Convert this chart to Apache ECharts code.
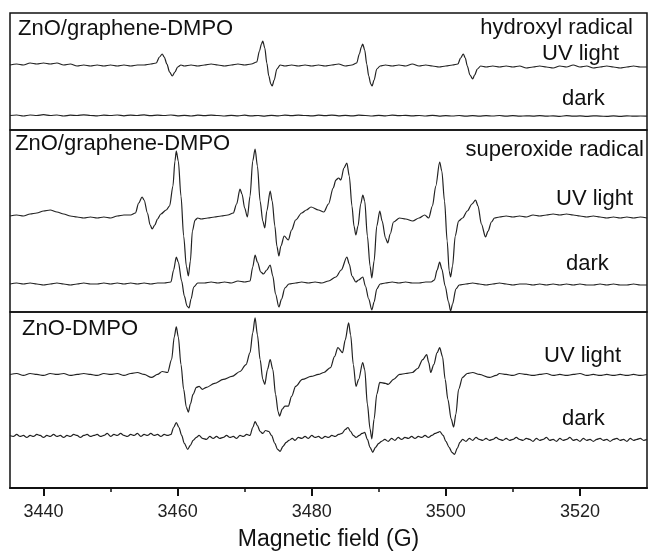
<!DOCTYPE html>
<html>
<head>
<meta charset="utf-8">
<script src="https://cdn.jsdelivr.net/npm/echarts@6/dist/echarts.min.js"></script>
<style>
  html, body { margin: 0; padding: 0; background: #fff; }
  #chart { width: 649px; height: 552px; }
</style>
</head>
<body>
<div id="chart"></div>
<script>
// Field axis (G)
const fieldMin = 3435;
const fieldMax = 3530;
const majorTicks = [3440, 3460, 3480, 3500, 3520];
const minorTicks = [3450, 3470, 3490, 3510];

// EPR spectra, [field (G), derivative signal (a.u.)] relative to each trace's baseline

// ZnO/graphene-DMPO, hydroxyl radical, UV light
const hydroxylUV = [
  [3435,1],[3436,2],[3437,1],[3438,3],[3439,2],[3440,3],[3441,2],[3442,3],[3443,1],[3444,2],[3445,0],[3446,1],[3447,0],[3448,1],[3449,0],[3450,1],[3451,0],[3452,1],[3453,0],[3454,1],[3455,1],[3456,2],
  [3456.8,3],[3457.3,9],[3457.7,12],[3458.0,9],[3458.4,2],[3458.8,-6],[3459.2,-10],[3459.6,-6],[3460.0,-1],[3460.5,1],
  [3461,0],[3462,1],[3463,0],[3464,1],[3465,2],[3466,1],[3467,0],[3468,1],[3469,2],[3470,1],[3471,2],[3471.8,4],
  [3472.2,15],[3472.5,22],[3472.7,25],[3473.0,18],[3473.3,3],[3473.6,-10],[3473.9,-18],[3474.1,-20],[3474.4,-14],[3474.8,-3],[3475.3,1],
  [3476,0],[3477,1],[3478,0],[3479,1],[3480,0],[3481,1],[3482,0],[3483,1],[3484,2],[3485,0],[3486,1],[3486.7,3],
  [3487.1,12],[3487.4,19],[3487.6,22],[3487.9,16],[3488.2,2],[3488.5,-10],[3488.8,-18],[3489.0,-20],[3489.3,-14],[3489.7,-3],[3490.2,0],
  [3491,1],[3492,0],[3493,1],[3494,0],[3495,2],[3496,0],[3497,1],[3498,0],[3499,-1],[3500,0],[3501,1],[3501.8,2],
  [3502.2,8],[3502.6,12],[3502.9,8],[3503.2,0],[3503.6,-9],[3504.0,-13],[3504.3,-9],[3504.7,-3],[3505.2,0],
  [3506,-1],[3507,0],[3508,-1],[3509,0],[3510,-1],[3511,0],[3512,-2],[3513,-1],[3514,0],[3515,-1],[3516,-2],[3517,0],[3518,-1],[3519,1],[3520,-1],[3521,0],[3522,-2],[3523,-1],[3524,0],[3525,-1],[3526,-2],[3527,-1],[3528,0],[3529,-1],[3530,-1]
];

// ZnO/graphene-DMPO, hydroxyl radical, dark
const hydroxylDark = [
  [3435,0],[3436,0.5],[3437,-0.5],[3438,0.5],[3439,0],[3440,0.8],[3441,0],[3442,0.5],[3443,-0.5],[3444,0.3],[3445,0],[3446,0.6],[3447,0],[3448,-0.4],[3449,0.4],[3450,0],[3451,0.5],[3452,-0.3],[3453,0.4],[3454,0],[3455,0.6],[3456,-0.2],[3457,0.4],[3458,0],[3459,0.5],[3460,-0.3],[3461,0.2],[3462,-0.5],[3463,0.3],[3464,-0.2],[3465,0.4],[3466,0],[3467,-0.5],[3468,0.2],[3469,-0.3],[3470,0.3],[3471,-0.4],[3472,0],[3473,-0.6],[3474,0.2],[3475,-0.3],[3476,0.3],[3477,-0.2],[3478,0.4],[3479,0],[3480,-0.4],[3481,0.3],[3482,-0.2],[3483,0.4],[3484,-0.3],[3485,0.2],[3486,-0.4],[3487,0.3],[3488,0],[3489,-0.5],[3490,0.2],[3491,-0.3],[3492,0.3],[3493,-0.2],[3494,0.2],[3495,-0.4],[3496,0],[3497,-0.5],[3498,0.2],[3499,-0.6],[3500,-0.1],[3501,-0.5],[3502,0],[3503,-0.7],[3504,-0.2],[3505,-0.6],[3506,-0.1],[3507,-0.5],[3508,0],[3509,-0.6],[3510,-0.2],[3511,-0.7],[3512,-0.3],[3513,-0.6],[3514,-0.1],[3515,-0.7],[3516,-0.3],[3517,-0.8],[3518,-0.2],[3519,-0.7],[3520,-0.4],[3521,-0.8],[3522,-0.3],[3523,-0.6],[3524,-0.9],[3525,-0.4],[3526,-0.8],[3527,-0.3],[3528,-0.7],[3529,-0.5],[3530,-0.6]
];

// ZnO/graphene-DMPO, superoxide radical, UV light
const superoxideUV = [
  [3435,0],[3436,1],[3437,0],[3438,2],[3439,3],[3440,5],[3441,6],[3442,4],[3443,2],[3444,0],[3445,-1],[3446,-2],[3447,-1],[3448,-2],[3449,-1],[3450,-2],[3451,0],[3452,1],[3453,1],[3453.7,3],
  [3454.2,13],[3454.7,19],[3455.0,16],[3455.5,3],[3455.9,-9],[3456.2,-13],[3456.6,-9],[3457.0,-3],[3457.5,2],[3458.3,6],[3458.8,10],
  [3459.3,30],[3459.6,55],[3459.8,65],[3460.1,55],[3460.5,20],[3460.9,-20],[3461.3,-50],[3461.6,-60],[3461.9,-45],[3462.2,-15],[3462.6,-4],[3463.0,-2],
  [3463.5,-3],[3464.5,-2],[3465.5,-1],[3466.5,0],[3467.5,1],[3468.3,3],
  [3468.8,12],[3469.3,27],[3469.6,22],[3470.0,8],[3470.4,-1],
  [3470.8,20],[3471.2,55],[3471.55,67],[3471.9,50],[3472.3,15],[3472.7,-5],[3473.0,-12],
  [3473.3,5],[3473.8,25],[3474.1,15],[3474.5,-10],[3474.8,-30],[3475.1,-40],[3475.4,-30],[3475.9,-20],[3476.5,-24],[3477.0,-14],[3477.6,-4],[3478.5,3],[3479.2,6],[3479.9,9],[3481.0,6],[3481.8,4],
  [3482.5,12],[3483.2,28],[3483.6,36],[3484.0,38],[3484.35,36],[3484.8,48],[3485.24,53],
  [3485.6,40],[3486.0,10],[3486.3,-10],[3486.58,-19],[3486.9,-10],
  [3487.3,12],[3487.62,21],[3487.9,15],[3488.3,-20],[3488.7,-50],[3488.96,-62],[3489.3,-45],[3489.7,-10],
  [3490.15,5],[3490.5,-5],[3491.0,-22],[3491.34,-27],[3491.7,-18],[3492.2,-6],[3493.1,-2],[3494.0,-3],[3495.06,-5],[3496.0,-2],[3496.85,1],[3497.44,-2],
  [3498.0,10],[3498.5,30],[3499.08,54],[3499.4,45],[3499.8,15],[3500.2,-25],[3500.5,-55],[3500.71,-61],[3501.0,-50],[3501.4,-20],[3501.9,-5],[3502.5,-2],
  [3503.2,5],[3503.9,12],[3504.43,16],[3504.8,10],[3505.3,-8],[3505.92,-21],[3506.3,-15],[3506.8,-6],[3507.26,-2],
  [3508,-1],[3509,0],[3510,-1],[3511,0],[3512,-1],[3513,1],[3514,0],[3515,1],[3516,2],[3517,1],[3518,2],[3519,1],[3520,0],[3521,-1],[3522,0],[3523,-1],[3524,-2],[3525,-1],[3526,-2],[3527,-1],[3528,-2],[3529,-1],[3530,-2]
];

// ZnO/graphene-DMPO, superoxide radical, dark
const superoxideDark = [
  [3435,0],[3436,1],[3437,0],[3438,1],[3439,0],[3440,-1],[3441,0],[3442,1],[3443,0],[3444,-1],[3445,0],[3446,1],[3447,0],[3448,0],[3449,1],[3450,0],[3451,1],[3452,0],[3453,1],[3454,0],[3455,1],[3456,0],[3457,1],[3458,1],[3459.0,2],
  [3459.4,14],[3459.8,27],[3460.1,22],[3460.6,3],[3461.0,-12],[3461.4,-22],[3461.7,-24],[3462.0,-15],[3462.4,-3],[3463.0,1],
  [3464,1],[3465,2],[3466,1],[3467,2],[3468,1],[3469,3],[3470,2],[3470.8,3],
  [3471.2,17],[3471.55,29],[3471.9,22],[3472.4,12],[3472.8,10],[3473.3,14],[3473.8,19],[3474.2,8],[3474.6,-10],[3475.1,-23],[3475.5,-15],[3476.0,-4],[3476.6,0],[3477.6,1],
  [3478.5,2],[3479.5,1],[3480.5,2],[3481.5,1],[3482.5,3],[3483.6,7],[3484.4,14],[3485.24,27],[3485.6,20],[3486.0,8],[3486.58,2],[3487.0,4],[3487.62,7],[3488.0,-2],[3488.5,-15],[3488.96,-26],[3489.3,-18],[3489.7,-5],[3490.2,0],
  [3491,1],[3492,2],[3493,1],[3494,2],[3495,1],[3496,1],[3497,2],[3497.8,2],[3498.3,4],[3498.7,14],[3499.08,22],[3499.4,15],[3499.9,-2],[3500.4,-18],[3500.71,-27],[3501.0,-20],[3501.5,-5],[3502.0,-1],
  [3503,0],[3504,1],[3505,0],[3506,-1],[3507,0],[3508,1],[3509,0],[3510,-1],[3511,0],[3512,0],[3513,-1],[3514,0],[3515,-1],[3516,0],[3517,-1],[3518,0],[3519,-1],[3520,0],[3521,-1],[3522,-1],[3523,0],[3524,-1],[3525,0],[3526,-1],[3527,-1],[3528,0],[3529,-1],[3530,-1]
];

// ZnO-DMPO, UV light
const znoUV = [
  [3435,0],[3436,1],[3437,-1],[3438,1],[3439,0],[3440,-1],[3441,1],[3442,0],[3443,1],[3444,-1],[3445,0],[3446,1],[3447,0],[3448,-1],[3449,1],[3450,0],[3451,1],[3452,-1],[3453,1],[3454,2],[3455,0],[3456.1,-3],[3457.0,0],[3457.7,3],[3458.5,2],
  [3459.1,15],[3459.5,38],[3459.8,48],[3460.1,38],[3460.5,10],[3460.9,-15],[3461.3,-33],[3461.6,-38],[3461.9,-30],[3462.3,-20],[3462.8,-13],[3463.2,-12],[3463.7,-15],[3464.3,-13],[3465.5,-9],[3466.8,-5],[3468.1,-2],[3469.3,3],[3470.2,10],
  [3470.8,22],[3471.2,42],[3471.55,57],[3471.9,40],[3472.3,15],[3472.7,-5],[3473.0,-10],[3473.4,5],[3473.8,15],[3474.2,5],[3474.6,-20],[3475.0,-38],[3475.2,-42],[3475.6,-35],[3476.0,-32],[3476.5,-32],[3477.0,-22],[3477.6,-12],[3478.6,-5],[3479.9,-2],[3481.0,0],[3481.8,2],[3482.8,7],[3483.4,18],[3483.9,27],[3484.6,22],[3485.0,35],[3485.5,52],
  [3485.8,40],[3486.2,10],[3486.6,-12],[3487.0,-5],[3487.6,12],[3487.9,5],[3488.3,-30],[3488.7,-55],[3488.96,-65],[3489.3,-45],[3489.7,-20],[3490.15,-8],[3491.0,-9],[3491.4,-10],[3492.2,-5],[3493.1,0],[3494,1],[3495.0,2],[3495.8,6],[3496.55,15],[3497.14,20],[3497.45,12],[3497.74,2],[3498.2,10],[3498.7,22],[3499.08,27],[3499.5,18],[3499.9,-5],[3500.3,-25],[3500.8,-45],[3501.16,-53],[3501.5,-40],[3501.9,-15],[3502.5,-3],[3503.2,1],[3504.0,2],[3505.0,0],[3506.5,-3],[3507.5,-1],
  [3508,1],[3509,0],[3510,-1],[3511,1],[3512,0],[3513,-1],[3514,0],[3515,1],[3516,-1],[3517,0],[3518,-1],[3519,0],[3520,1],[3521,-1],[3522,0],[3523,-1],[3524,0],[3525,-1],[3526,0],[3527,-1],[3528,0],[3529,-1],[3530,0]
];

// ZnO-DMPO, dark
const znoDark = [
  [3435,2],[3435.5,1],[3436,3],[3436.5,1],[3437,2],[3437.5,0],[3438,2],[3438.5,1],[3439,3],[3439.5,2],[3440,0],[3440.5,2],[3441,1],[3441.5,3],[3442,1],[3442.5,2],[3443,0],[3443.5,2],[3444,1],[3444.5,3],[3445,2],[3445.5,0],[3446,2],[3446.5,3],[3447,1],[3447.5,2],[3448,3],[3448.5,1],[3449,2],[3449.5,4],[3450,1],[3450.5,3],[3451,2],[3451.5,4],[3452,2],[3452.5,1],[3453,3],[3453.5,2],[3454,4],[3454.5,1],[3455,3],[3455.5,2],[3456,4],[3456.5,2],[3457,3],[3457.5,1],[3458,3],[3458.5,2],[3459.0,3],
  [3459.4,10],[3459.8,15],[3460.2,10],[3460.6,2],[3461.0,-6],[3461.5,-12],[3461.9,-8],[3462.3,-3],[3462.8,0],[3463.2,2],[3463.7,-1],[3464.3,-2],[3464.8,1],[3465.3,-1],[3465.8,1],[3466.3,-1],[3466.8,0],[3467.3,2],[3467.8,0],[3468.3,1],[3468.8,-1],[3469.3,2],[3469.8,1],[3470.3,3],[3470.8,2],
  [3471.2,10],[3471.55,16],[3471.9,12],[3472.3,6],[3472.7,4],[3473.1,7],[3473.6,6],[3474.0,2],[3474.5,-6],[3474.9,-12],[3475.3,-14],[3475.7,-9],[3476.2,-5],[3476.6,-3],[3477.1,-1],[3477.5,-3],[3478.0,0],[3478.5,-1],[3479.0,1],[3479.5,-1],[3480.0,2],[3480.5,0],[3481.0,1],[3481.5,-1],[3482.0,1],[3482.5,0],[3483.0,2],[3483.5,1],[3484.0,3],[3484.5,4],[3485.0,8],[3485.4,10],[3485.8,6],[3486.2,2],[3486.6,0],[3487.1,2],[3487.5,4],[3487.9,5],[3488.3,-2],[3488.7,-10],[3489.1,-15],[3489.5,-10],[3490.0,-6],[3490.4,-4],[3490.9,-2],[3491.4,-4],[3491.9,-1],[3492.4,-3],[3492.9,0],[3493.4,-2],[3493.9,0],[3494.4,-1],[3494.9,1],[3495.4,-1],[3495.9,1],[3496.4,0],[3496.9,2],[3497.4,0],[3497.9,2],[3498.4,4],[3498.8,5],[3499.1,6],[3499.6,2],[3500.0,-4],[3500.5,-10],[3500.9,-15],[3501.3,-17],[3501.7,-11],[3502.1,-5],[3502.5,-2],
  [3503.0,-4],[3503.5,-1],[3504.0,-3],[3504.5,0],[3505.0,-2],[3505.5,-3],[3506.0,-1],[3506.5,-3],[3507.0,-2],[3507.5,0],[3508.0,-2],[3508.5,-3],[3509.0,-1],[3509.5,-3],[3510.0,-2],[3510.5,0],[3511.0,-2],[3511.5,-3],[3512.0,-1],[3512.5,-2],[3513.0,-4],[3513.5,-1],[3514.0,-3],[3514.5,-2],[3515.0,0],[3515.5,-3],[3516.0,-2],[3516.5,-4],[3517.0,-1],[3517.5,-3],[3518.0,-2],[3518.5,0],[3519.0,-3],[3519.5,-2],[3520.0,-4],[3520.5,-1],[3521.0,-3],[3521.5,-2],[3522.0,-4],[3522.5,-2],[3523.0,-1],[3523.5,-3],[3524.0,-2],[3524.5,-4],[3525.0,-2],[3525.5,-1],[3526.0,-3],[3526.5,-2],[3527.0,-4],[3527.5,-1],[3528.0,-3],[3528.5,-2],[3529.0,-1],[3529.5,-3],[3530.0,-2]
];

// Vertical extent of each panel and stacking offset of each trace (a.u.)
const panelRanges = [117, 182, 177.5];
const traces = [
  { data: hydroxylUV,     panel: 0, offset: 64 },
  { data: hydroxylDark,   panel: 0, offset: 14.5 },
  { data: superoxideUV,   panel: 1, offset: 96 },
  { data: superoxideDark, panel: 1, offset: 28 },
  { data: znoUV,          panel: 2, offset: 114.5 },
  { data: znoDark,        panel: 2, offset: 51 }
];

const FONT = '"Liberation Sans", Arial, sans-serif';
const INK = '#111';

const panelTops = [13, 130, 312];
const grids = panelRanges.map((h, i) => ({
  left: 10, right: 2, top: panelTops[i], height: h,
  show: true, borderColor: INK, borderWidth: 1.5, containLabel: false
}));

const xAxes = [
  { gridIndex: 0, type: 'value', min: fieldMin, max: fieldMax, show: false },
  { gridIndex: 1, type: 'value', min: fieldMin, max: fieldMax, show: false },
  {
    gridIndex: 2, type: 'value', min: fieldMin, max: fieldMax, position: 'bottom',
    axisLine: { show: true, lineStyle: { color: INK, width: 2 } },
    axisTick: { show: true, inside: false, length: 8, customValues: majorTicks, lineStyle: { color: INK, width: 2 } },
    axisLabel: {
      show: true, customValues: majorTicks, margin: 15, fontSize: 18, color: '#222', fontFamily: FONT,
      formatter: v => String(v)
    },
    splitLine: { show: false },
    name: 'Magnetic field (G)', nameLocation: 'middle', nameGap: 40,
    nameTextStyle: { fontSize: 23, color: INK, fontFamily: FONT }
  },
  {
    gridIndex: 2, type: 'value', min: fieldMin, max: fieldMax, position: 'bottom',
    axisLine: { show: false },
    axisTick: { show: true, inside: false, length: 4, customValues: minorTicks, lineStyle: { color: INK, width: 1.5 } },
    axisLabel: { show: false },
    splitLine: { show: false }
  }
];

const yAxes = panelRanges.map((h, i) => ({
  gridIndex: i, type: 'value', min: 0, max: h, show: false
}));

const series = traces.map(t => ({
  type: 'line',
  xAxisIndex: t.panel,
  yAxisIndex: t.panel,
  data: t.data.map(([b, v]) => [b, v + t.offset]),
  showSymbol: false,
  smooth: 0.3,
  smoothMonotone: 'x',
  lineStyle: { color: '#222', width: 1.2 },
  silent: true,
  animation: false
}));

function label(text, x, y, align) {
  return {
    type: 'text', x: x, y: y, silent: true,
    style: { text: text, fill: INK, fontSize: 22, fontFamily: FONT, align: align || 'left', verticalAlign: 'middle' }
  };
}

const chart = echarts.init(document.getElementById('chart'), null, { renderer: 'canvas' });
chart.setOption({
  animation: false,
  backgroundColor: '#fff',
  grid: grids,
  xAxis: xAxes,
  yAxis: yAxes,
  series: series,
  graphic: [
    label('ZnO/graphene-DMPO', 18, 29),
    label('hydroxyl radical', 633, 28, 'right'),
    label('UV light', 542, 54),
    label('dark', 562, 99),
    label('ZnO/graphene-DMPO', 15, 144),
    label('superoxide radical', 644, 150, 'right'),
    label('UV light', 556, 199),
    label('dark', 566, 264),
    label('ZnO-DMPO', 22, 329),
    label('UV light', 544, 356),
    label('dark', 562, 419)
  ]
});
</script>
</body>
</html>
